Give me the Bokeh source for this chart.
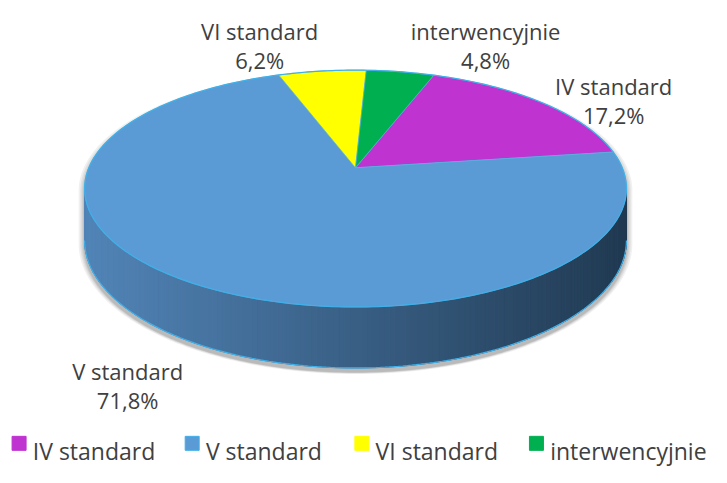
import numpy as np
from bokeh.plotting import figure
from bokeh.models import Range1d, ColumnDataSource
from bokeh.core.properties import value
from bokeh.embed import file_html
from bokeh.resources import INLINE

# ---- data ----
categories = ["IV standard", "V standard", "VI standard", "interwencyjnie"]
shares = [17.2, 71.8, 6.2, 4.8]
pct_labels = ["17,2%", "71,8%", "6,2%", "4,8%"]
colors = ["#BF33D0", "#5B9BD5", "#FFFF00", "#00B050"]

# ---- layout (reference pixel coordinates) ----
W, H = 711, 467
FONT = "Open Sans"
TXT = "#404040"
cx, cy = 363.0, 173.0       # projected pie centre
A, B, g = 272.7, 118.7, 0.1755   # perspective projection
D = 52.0                    # side depth
start_deg = 20.0

def proj(theta_deg):
    t = np.radians(theta_deg)
    u, v = np.sin(t), np.cos(t)
    w = 1 + g * v
    return cx + A * u / w, cy - B * v / w, w

p = figure(width=W, height=H, x_range=Range1d(0, 727), y_range=Range1d(483, 0),
           output_backend="svg", toolbar_location=None, min_border=0)
p.axis.visible = False
p.grid.visible = False
p.outline_line_color = None
p.background_fill_color = "white"
p.border_fill_color = "white"

# ---- shadow ----
t_back = np.linspace(259.9, 460.1, 200)
bx, by, _ = proj(t_back)
t_front = np.linspace(100.1, 259.9, 200)
fx, fy, fw = proj(t_front)
fy2 = fy + D / fw
sil_x = np.concatenate([bx, fx])
sil_y = np.concatenate([by, fy2])
mx, my = cx, 230.0
for k, s in enumerate([1.022, 1.016, 1.011, 1.007, 1.004]):
    p.patch(mx + (sil_x - mx) * s, my + (sil_y - my) * s + 3 + k * 0.3,
            fill_color="black", fill_alpha=0.06, line_color=None)

# ---- side ----
c_left = np.array([82, 133, 184])
c_right = np.array([33, 58, 82])
xs, ys, cols = [], [], []
tt = np.linspace(100.1, 259.9, 161)
for i in range(len(tt) - 1):
    x0, y0, w0 = proj(tt[i])
    x1, y1, w1 = proj(tt[i + 1])
    xs.append([x0, x1, x1, x0])
    ys.append([y0, y1, y1 + D / w1, y0 + D / w0])
    f = ((x0 + x1) / 2 - (cx - 277)) / 554.0
    f = min(max(f, 0), 1)
    c = (c_left * (1 - f) + c_right * f).astype(int)
    cols.append("#%02x%02x%02x" % tuple(c))
p.patches(xs, ys, fill_color=cols, line_color=cols, line_width=1)
p.line(fx, fy2, line_color="#3fb0e8", line_width=1.2)

# ---- top face slices ----
total = sum(shares)
ang = start_deg
sx, sy = [], []
for s in shares:
    span = 360.0 * s / total
    th = np.linspace(ang, ang + span, max(int(span * 2), 4))
    px, py, _ = proj(th)
    sx.append(np.concatenate([[cx], px]))
    sy.append(np.concatenate([[cy], py]))
    ang += span
src = ColumnDataSource(dict(xs=sx, ys=sy, color=colors))
p.patches("xs", "ys", source=src, fill_color="color", line_color="#56b4e6",
          line_width=0.8, line_alpha=0.8)
tx, ty, _ = proj(np.linspace(0, 360, 361))
p.line(tx, ty, line_color="#3fb0e8", line_width=1.2)

# ---- data labels ----
lab_x = [627, 130, 265, 496]
lab_y = [88, 383, 32, 32]
p.text(x=lab_x, y=lab_y, text=categories, text_align="center", text_baseline="alphabetic",
       text_font=value(FONT), text_font_size="22px", text_color=TXT)
p.text(x=lab_x, y=[v + 30 for v in lab_y], text=pct_labels, text_align="center",
       text_baseline="alphabetic", text_font=value(FONT), text_font_size="22px", text_color=TXT)

# ---- legend ----
leg_sq_x = [19, 196, 369.5, 548]
leg_y = 458
p.scatter(x=leg_sq_x, y=[leg_y] * 4, marker="square", size=14, fill_color=colors,
          line_color=["#BF33D0", "#3fb0e8", "#FFFF00", "#00B050"], line_width=1)
p.text(x=[v + 14 for v in leg_sq_x], y=[leg_y + 7.5] * 4, text=categories, text_align="left",
       text_baseline="alphabetic", text_font=value(FONT), text_font_size="23px", text_color=TXT)

open("out.html", "w").write(file_html(p, INLINE))
